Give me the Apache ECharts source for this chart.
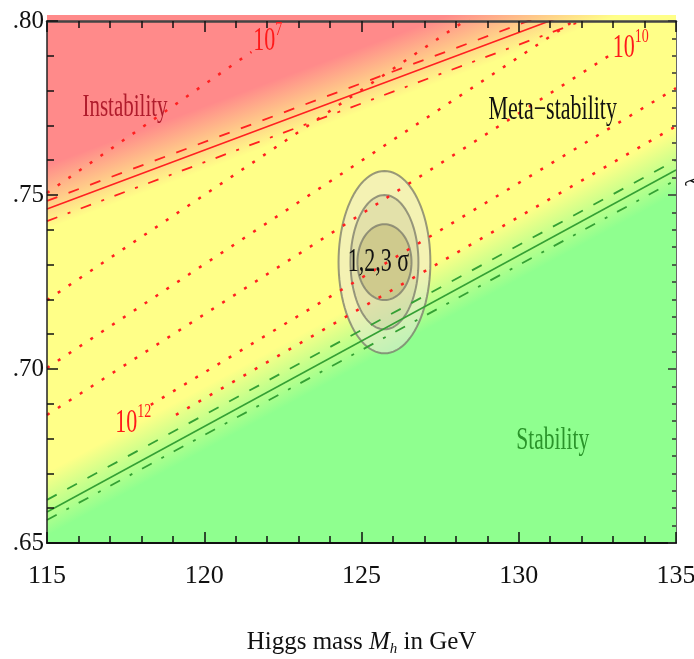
<!DOCTYPE html>
<html>
<head>
<meta charset="utf-8">
<title>Higgs mass stability</title>
<script src="https://cdn.jsdelivr.net/npm/echarts@6/dist/echarts.min.js"></script>
<style>
  html, body { margin: 0; padding: 0; background: #fff; }
  #chart { width: 694px; height: 659px; }
</style>
</head>
<body>
<div id="chart"></div>
<script>
// axis ticks
const massTicks = [115, 120, 125, 130, 135]
const couplingTicks = [0.65, 0.70, 0.75, 0.80]
const couplingTickLabels = ['.65', '.70', '.75', '.80']

// band lines: coupling value at Mh = 115 and Mh = 135
const lineMass = [115, 135]
const redSolid = [0.7460, 0.8136]
const redDashed = [0.7483, 0.8159]
const redDashDot = [0.7425, 0.8101]
const greenSolid = [0.6589, 0.7572]
const greenDashed = [0.6624, 0.7600]
const greenDashDot = [0.6566, 0.7543]

// edges of the coloured regions (same form)
const instabilityEdge = [0.7494, 0.8170]
const stabilityEdge = [0.6612, 0.7595]

// dotted instability-scale lines, [Mh, coupling] end points
const scale7 = [[115, 0.7506], [121.5, 0.7911]]
const scaleA = [[115, 0.7198], [135, 0.8406]]
const scaleB = [[115, 0.7003], [135, 0.8194]]
const scale10 = [[115, 0.6868], [132.9, 0.7902]]
const scaleD = [[118.3, 0.6897], [135, 0.7807]]
const scale12 = [[119.1, 0.6868], [135, 0.7698]]

// 1,2,3 sigma contours (outer to inner)
const sigmaCenter = [125.73, 0.7307]
const sigmaRx = [1.46, 1.08, 0.86]
const sigmaRy = [0.0262, 0.0193, 0.0109]

// labels
const noteText = ['Instability', 'Meta\u2212stability', 'Stability', '1,2,3 \u03c3']
const notePos = [[117.48, 0.7750], [131.08, 0.7744], [131.08, 0.6793], [125.54, 0.7307]]
const powerExp = ['7', '10', '12']
const powerPos = [[121.56, 0.7943], [132.99, 0.7922], [117.17, 0.6845]]

const serif = "'Liberation Serif', 'Times New Roman', serif"
const noteStyle = [
    { fill: '#b01c2c', fontSize: 21 },
    { fill: '#111', fontSize: 22 },
    { fill: '#2a942a', fontSize: 21.5 },
    { fill: '#111', fontSize: 22 }
]
const sigmaFill = ['rgba(235,232,215,0.55)', 'rgba(190,185,150,0.3)', 'rgba(170,160,90,0.35)']

function edgeGradient(api, edge, side, half, rgb) {
    const p0 = api.coord([lineMass[0], edge[0]])
    const p1 = api.coord([lineMass[1], edge[1]])
    const dx = p1[0] - p0[0], dy = p1[1] - p0[1]
    const len = Math.hypot(dx, dy)
    // normal, down-right when side = 1
    const nx = -dy / len * side, ny = dx / len * side
    const mx = (p0[0] + p1[0]) / 2, my = (p0[1] + p1[1]) / 2
    return new echarts.graphic.LinearGradient(
        mx - nx * half, my - ny * half, mx + nx * half, my + ny * half,
        [{ offset: 0, color: 'rgba(' + rgb + ',0)' }, { offset: 1, color: 'rgba(' + rgb + ',1)' }],
        true)
}

function renderRegions(params, api) {
    const tl = api.coord([115, 0.8017])
    const br = api.coord([135, 0.65])
    const box = [[tl[0], tl[1]], [br[0], tl[1]], [br[0], br[1]], [tl[0], br[1]]]
    return {
        type: 'group',
        children: [
            { type: 'polygon', shape: { points: box }, style: { fill: '#ffff88' } },
            { type: 'polygon', shape: { points: box }, style: { fill: edgeGradient(api, instabilityEdge, -1, 30, '255,138,138') } },
            { type: 'polygon', shape: { points: box }, style: { fill: edgeGradient(api, stabilityEdge, 1, 28, '143,255,143') } }
        ]
    }
}

function renderSigma(params, api) {
    const c = api.coord([api.value(0), api.value(1)])
    const s = api.size([api.value(2), api.value(3)])
    const pts = []
    for (let k = 0; k < 96; k++) {
        const t = k / 96 * Math.PI * 2
        pts.push([c[0] + s[0] * Math.cos(t), c[1] + s[1] * Math.sin(t)])
    }
    return {
        type: 'polygon',
        shape: { points: pts },
        style: { fill: sigmaFill[params.dataIndex], stroke: 'rgba(120,120,105,0.75)', lineWidth: 2 }
    }
}

function renderNotes(params, api) {
    const p = api.coord([api.value(0), api.value(1)])
    const st = noteStyle[params.dataIndex]
    return {
        type: 'text', x: p[0], y: p[1], scaleY: 1.5,
        style: {
            text: noteText[params.dataIndex], fill: st.fill, fontSize: st.fontSize,
            fontFamily: serif, align: 'center', verticalAlign: 'middle'
        }
    }
}

function renderPowers(params, api) {
    const p = api.coord([api.value(0), api.value(1)])
    return {
        type: 'group', x: p[0], y: p[1],
        children: [
            { type: 'text', x: 0, y: 0, scaleY: 1.5,
              style: { text: '10', fill: '#ff1a1a', fontSize: 22, fontFamily: serif, align: 'left', verticalAlign: 'middle' } },
            { type: 'text', x: 22, y: -11, scaleY: 1.4,
              style: { text: powerExp[params.dataIndex], fill: '#ff1a1a', fontSize: 14, fontFamily: serif, align: 'left', verticalAlign: 'middle' } }
        ]
    }
}

function band(name, ends, color, type, width) {
    return {
        name, type: 'line', silent: true, symbol: 'none', z: 4,
        data: lineMass.map((m, i) => [m, ends[i]]),
        lineStyle: { color, type, width }
    }
}

function scaleLine(name, pts) {
    return {
        name, type: 'line', silent: true, symbol: 'none', z: 4,
        data: pts,
        lineStyle: { color: '#ff2020', type: [3, 10], width: 2.5 }
    }
}

const tickStyle = { color: '#111', width: 1.5 }

const chart = echarts.init(document.getElementById('chart'))
chart.setOption({
    animation: false,
    grid: { left: 47, right: 18, top: 21, bottom: 116, outerBoundsMode: 'none' },
    xAxis: [
        {
            type: 'value', min: 115, max: 135, interval: 5, z: 6,
            axisLine: { onZero: false, lineStyle: { color: '#111', width: 2 } },
            axisTick: { inside: true, length: 11, lineStyle: tickStyle },
            minorTick: { show: true, splitNumber: 5, length: 7, lineStyle: tickStyle },
            splitLine: { show: false },
            axisLabel: {
                margin: 20, fontFamily: serif, fontSize: 26, color: '#111',
                showMinLabel: true, showMaxLabel: true,
                formatter: v => massTicks.includes(Math.round(v)) ? String(Math.round(v)) : ''
            },
            name: 'Higgs mass {i|M}{sub|h} in GeV',
            nameLocation: 'middle',
            nameGap: 85,
            nameTextStyle: {
                fontFamily: serif, fontSize: 25, color: '#111',
                rich: {
                    i: { fontFamily: serif, fontStyle: 'italic', fontSize: 25, color: '#111' },
                    sub: { fontFamily: serif, fontStyle: 'italic', fontSize: 15, color: '#111', padding: [14, 0, 0, 0] }
                }
            }
        },
        {
            type: 'value', position: 'top', min: 115, max: 135, interval: 5, z: 6,
            axisLine: { onZero: false, lineStyle: { color: '#444', width: 2.5 } },
            axisTick: { inside: true, length: 11, lineStyle: tickStyle },
            minorTick: { show: true, splitNumber: 5, length: 7, lineStyle: tickStyle },
            splitLine: { show: false },
            axisLabel: { show: false }
        }
    ],
    yAxis: [
        {
            type: 'value', min: 0.65, max: 0.80, interval: 0.05, z: 6,
            axisLine: { show: true, onZero: false, lineStyle: { color: '#222', width: 1.5 } },
            axisTick: { inside: true, length: 11, lineStyle: tickStyle },
            minorTick: { show: true, splitNumber: 5, length: 7, lineStyle: tickStyle },
            splitLine: { show: false },
            axisLabel: {
                margin: 3, fontFamily: serif, fontSize: 25, color: '#111',
                showMinLabel: true, showMaxLabel: true,
                formatter: v => {
                    const i = couplingTicks.findIndex(t => Math.abs(t - v) < 1e-6)
                    return i < 0 ? '' : couplingTickLabels[i]
                }
            }
        },
        {
            type: 'value', position: 'right', min: 0.65, max: 0.80, interval: 0.05, z: 6,
            axisLine: { show: true, onZero: false, lineStyle: { color: '#666', width: 1 } },
            axisTick: { inside: true, length: 8, lineStyle: { color: '#333', width: 1.5 } },
            minorTick: { show: true, splitNumber: 10, length: 4, lineStyle: { color: '#333', width: 1.5 } },
            splitLine: { show: false },
            axisLabel: { show: false }
        }
    ],
    graphic: [
        {
            type: 'text', x: 683, y: 187, rotation: Math.PI / 2,
            style: { text: '\u03bb', fontFamily: serif, fontSize: 24, fill: '#111', verticalAlign: 'top' }
        }
    ],
    series: [
        { name: 'regions', type: 'custom', z: 1, silent: true, clip: false, data: [[115, 0.65]], renderItem: renderRegions },
        {
            name: 'sigma', type: 'custom', z: 2, silent: true,
            data: sigmaRx.map((rx, i) => [sigmaCenter[0], sigmaCenter[1], rx, sigmaRy[i]]),
            renderItem: renderSigma
        },
        band('red solid', redSolid, '#ff2020', 'solid', 1.6),
        band('red dashed', redDashed, '#ff2020', [11, 12], 1.8),
        band('red dash-dot', redDashDot, '#ff2020', [11, 11, 3, 11], 1.8),
        band('green solid', greenSolid, '#34a034', 'solid', 1.6),
        band('green dashed', greenDashed, '#34a034', [11, 12], 1.8),
        band('green dash-dot', greenDashDot, '#34a034', [11, 11, 3, 11], 1.8),
        scaleLine('1e7', scale7),
        scaleLine('a', scaleA),
        scaleLine('b', scaleB),
        scaleLine('1e10', scale10),
        scaleLine('d', scaleD),
        scaleLine('1e12', scale12),
        {
            name: 'notes', type: 'custom', z: 8, silent: true, clip: false,
            data: notePos.map((p, i) => [p[0], p[1], i]),
            renderItem: renderNotes
        },
        {
            name: 'powers', type: 'custom', z: 8, silent: true, clip: false,
            data: powerPos.map((p, i) => [p[0], p[1], i]),
            renderItem: renderPowers
        }
    ]
})
</script>
</body>
</html>
